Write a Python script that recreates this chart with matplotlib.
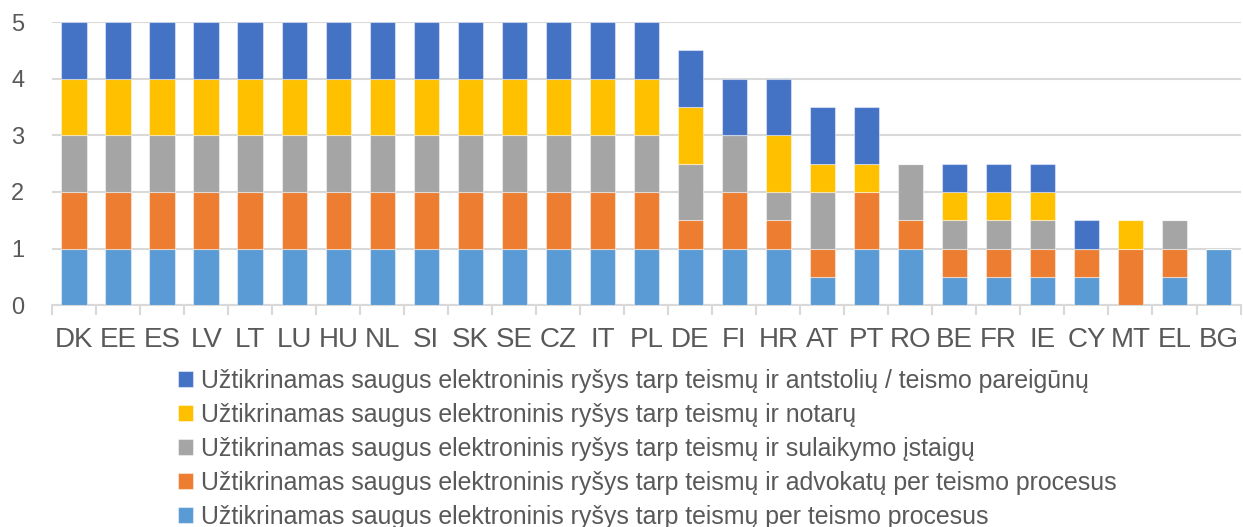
import matplotlib
matplotlib.use("Agg")
import matplotlib.pyplot as plt
import numpy as np

plt.rcParams['font.family'] = ['Liberation Sans', 'DejaVu Sans']

countries = ["DK", "EE", "ES", "LV", "LT", "LU", "HU", "NL", "SI", "SK", "SE", "CZ", "IT", "PL",
             "DE", "FI", "HR", "AT", "PT", "RO", "BE", "FR", "IE", "CY", "MT", "EL", "BG"]

# stacked from bottom to top
courts_proc = [1] * 14 + [1, 1, 1, 0.5, 1, 1, 0.5, 0.5, 0.5, 0.5, 0, 0.5, 1]
lawyers = [1] * 14 + [0.5, 1, 0.5, 0.5, 1, 0.5, 0.5, 0.5, 0.5, 0.5, 1, 0.5, 0]
detention = [1] * 14 + [1, 1, 0.5, 1, 0, 1, 0.5, 0.5, 0.5, 0, 0, 0.5, 0]
notaries = [1] * 14 + [1, 0, 1, 0.5, 0.5, 0, 0.5, 0.5, 0.5, 0, 0.5, 0, 0]
bailiffs = [1] * 14 + [1, 1, 1, 1, 1, 0, 0.5, 0.5, 0.5, 0.5, 0, 0, 0]

series = [
    (courts_proc, "#5B9BD5", "Užtikrinamas saugus elektroninis ryšys tarp teismų per teismo procesus"),
    (lawyers, "#ED7D31", "Užtikrinamas saugus elektroninis ryšys tarp teismų ir advokatų per teismo procesus"),
    (detention, "#A5A5A5", "Užtikrinamas saugus elektroninis ryšys tarp teismų ir sulaikymo įstaigų"),
    (notaries, "#FFC000", "Užtikrinamas saugus elektroninis ryšys tarp teismų ir notarų"),
    (bailiffs, "#4472C4", "Užtikrinamas saugus elektroninis ryšys tarp teismų ir antstolių / teismo pareigūnų"),
]

fig = plt.figure(figsize=(12.43, 5.27), dpi=100)
ax = fig.add_axes([0.042, 0.421, 0.956, 0.537])

x = np.arange(len(countries))
bottom = np.zeros(len(countries))
handles = []
for vals, color, label in series:
    v = np.array(vals, dtype=float)
    b = ax.bar(x, v, bottom=bottom, width=0.58, color=color, label=label,
               edgecolor=(1, 1, 1, 0.45), linewidth=0.8, zorder=3)
    handles.append(b)
    bottom += v

ax.set_xlim(-0.5, len(countries) - 0.5)
ax.set_ylim(0, 5)
ax.set_yticks(range(6))
ax.yaxis.grid(True, color="#D9D9D9", linewidth=1.5, zorder=0)
ax.set_axisbelow(True)

for s in ["top", "right", "left"]:
    ax.spines[s].set_visible(False)
ax.spines["bottom"].set_color("#D9D9D9")
ax.spines["bottom"].set_linewidth(1.5)

ax.tick_params(axis="y", length=0, labelsize=17, labelcolor="#595959", pad=20)
ax.set_xticks(x)
ax.set_xticklabels(countries)
ax.tick_params(axis="x", length=0, labelsize=20, labelcolor="#595959", pad=16)
ax.set_xticks(np.arange(len(countries) + 1) - 0.5, minor=True)
ax.tick_params(axis="x", which="minor", length=7, width=1.5, color="#D9D9D9")

leg = fig.legend(handles=handles[::-1], labels=[s[2] for s in series[::-1]],
                 loc="upper left", bbox_to_anchor=(0.143, 0.300), frameon=False,
                 fontsize=17.9, labelcolor="#595959", handlelength=0.6, handleheight=0.6,
                 handletextpad=0.35, labelspacing=0.4, borderpad=0, borderaxespad=0)

fig.savefig("out.png", dpi=100)
